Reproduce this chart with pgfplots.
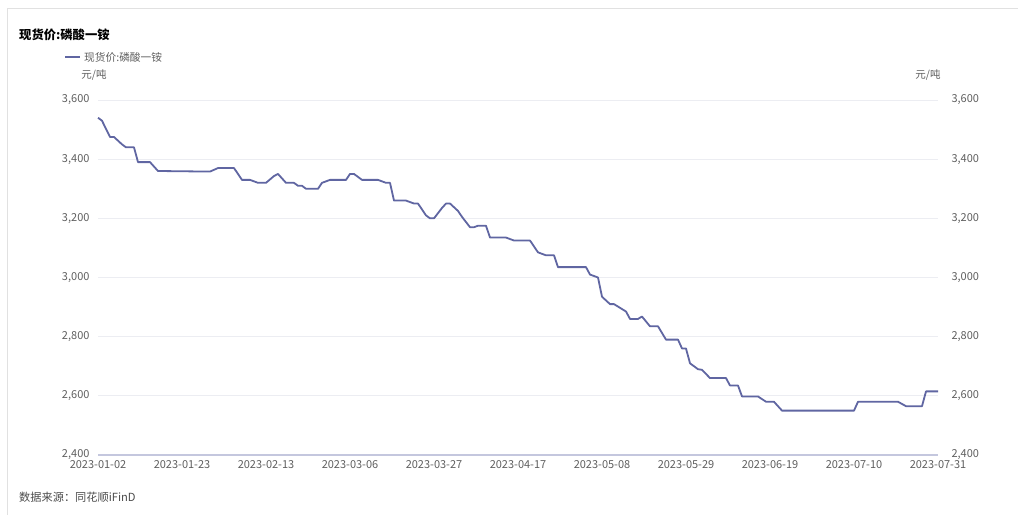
\documentclass[border=0pt]{standalone}
\usepackage{fontspec}
\setmainfont{Noto Sans CJK SC}
\usepackage{pgfplots}
\pgfplotsset{compat=1.18}
\definecolor{linec}{RGB}{96,102,162}
\definecolor{tickc}{RGB}{95,95,95}
\definecolor{gridc}{RGB}{236,237,242}
\definecolor{basec}{RGB}{196,199,222}
\definecolor{framec}{RGB}{225,225,225}
\begin{document}
\begin{tikzpicture}[x=1pt,y=1pt]
\useasboundingbox (0,0) rectangle (1018,515);
\fill[white] (0,0) rectangle (1018,515);
\draw[framec, line width=1pt] (7,0) -- (7,506) -- (1018,506);
\node[anchor=west, inner sep=0pt, font=\fontsize{12.3}{13}\selectfont\bfseries] at (19,480) {现货价:磷酸一铵};
\draw[linec, line width=1.6pt] (65,458) -- (80,458);
\node[anchor=west, inner sep=0pt, font=\fontsize{10.7}{12}\selectfont, text=tickc] at (84,458) {现货价:磷酸一铵};
\node[anchor=center, inner sep=0pt, font=\fontsize{10.5}{12}\selectfont, text=tickc] at (94,440) {元/吨};
\node[anchor=center, inner sep=0pt, font=\fontsize{10.5}{12}\selectfont, text=tickc] at (928,440) {元/吨};
\node[anchor=west, inner sep=0pt, font=\fontsize{11.2}{12}\selectfont, text=tickc!80!black] at (19,18) {数据来源：同花顺iFinD};
\begin{axis}[at={(98pt,60pt)}, anchor=south west, scale only axis,
  width=840pt, height=355pt,
  xmin=0, xmax=210, ymin=2400, ymax=3600,
  axis x line*=bottom, axis y line*=left,
  x axis line style={basec, line width=2pt, -},
  y axis line style={draw=none},
  major tick length=0pt,
  xtick={0,21,...,210},
  xticklabels={2023-01-02,2023-01-23,2023-02-13,2023-03-06,2023-03-27,2023-04-17,2023-05-08,2023-05-29,2023-06-19,2023-07-10,2023-07-31},
  ytick={2400,2600,...,3600},
  ymajorgrids, grid style={gridc, line width=0.8pt},
  /pgf/number format/assume math mode=true,
  /pgf/number format/1000 sep={,},
  tick label style={font=\fontsize{11}{12}\selectfont, text=tickc},
  yticklabel style={xshift=-5pt},
  xticklabel style={yshift=-2pt},
  clip=false]
\addplot[linec, line width=1.8pt, line join=round] coordinates {
(0,3540) (1,3530) (3,3475) (4,3475) (6,3450) (7,3440) (9,3440) (10,3390) (13,3390) (15,3360)
(28,3358) (30,3370) (34,3370) (36,3330) (38,3330) (40,3320) (42,3320) (44,3343) (45,3350)
(47,3320) (49,3320) (50,3310) (51,3310) (52,3300) (55,3300) (56,3320) (58,3330) (62,3330)
(63,3350) (64,3350) (66,3330) (70,3330) (72,3320) (73,3320) (74,3260) (77,3260) (79,3250)
(80,3250) (82,3210) (83,3200) (84,3200) (86,3235) (87,3250) (88,3250) (90,3225) (91,3205)
(93,3170) (94,3170) (95,3175) (97,3175) (98,3135) (102,3135) (104,3125) (108,3125) (110,3085)
(112,3075) (114,3075) (115,3035) (122,3035) (123,3010) (125,3000) (126,2935) (128,2910)
(129,2910) (132,2885) (133,2860) (135,2860) (136,2868) (138,2835) (140,2835) (142,2790)
(145,2790) (146,2760) (147,2760) (148,2710) (150,2690) (151,2688) (153,2660) (157,2660)
(158,2635) (160,2635) (161,2598) (165,2598) (167,2580) (169,2580) (171,2550) (189,2550)
(190,2580) (200,2580) (202,2565) (206,2565) (207,2615) (210,2615)
};
\end{axis}
\begin{axis}[at={(98pt,60pt)}, anchor=south west, scale only axis,
  width=840pt, height=355pt,
  xmin=0, xmax=210, ymin=2400, ymax=3600,
  axis x line=none, axis y line*=right,
  y axis line style={draw=none},
  major tick length=0pt,
  ytick={2400,2600,...,3600},
  yticklabel pos=right,
  /pgf/number format/assume math mode=true,
  /pgf/number format/1000 sep={,},
  tick label style={font=\fontsize{11}{12}\selectfont, text=tickc},
  yticklabel style={xshift=10pt}]
\addplot[draw=none] coordinates {(0,2400) (210,3600)};
\end{axis}
\end{tikzpicture}
\end{document}
